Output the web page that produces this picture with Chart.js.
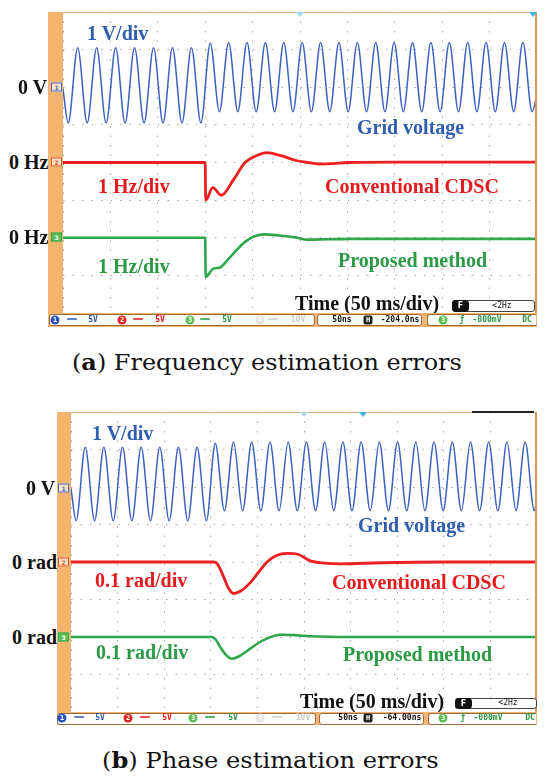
<!DOCTYPE html>
<html>
<head>
<meta charset="utf-8">
<script src="https://cdn.jsdelivr.net/npm/chart.js@4.4.1/dist/chart.umd.min.js"></script>
<style>
  body { margin: 0; background: #fff; }
  #page { position: relative; width: 550px; height: 784px; overflow: hidden; }
  canvas, .strip, .frame, .sbar, .lbl, .st, .cap, .mk, .badge, .tri { position: absolute; }
  .strip { background: #f5b46f; }
  .frame { box-sizing: border-box; border-top: 1px solid #e2ab7c; border-right: 2px solid #df9457; pointer-events: none; }
  .sbar { background: #f5b46f; }
  .seg { position: absolute; top: 1px; height: 10px; background: #fff; border: 1px solid #9a6b43; border-radius: 3px; }
  .lbl { font: bold 20px "Liberation Serif", serif; line-height: 1; white-space: nowrap; transform: translateY(-50%); }
  .blue { color: #2f5db0; }
  .red { color: #e41a1c; }
  .green { color: #2b9a45; }
  .black { color: #111; }
  .cap { font: 22px "DejaVu Serif", serif; line-height: 1; white-space: nowrap; color: #111; transform-origin: left center; }
  .st { font: bold 8px "DejaVu Sans Mono", monospace; line-height: 1; white-space: nowrap; transform: translate(-50%, -50%); }
  .dot { width: 9px; height: 9px; border-radius: 50%; color: #fff; font-size: 7px; line-height: 9px; text-align: center; transform: translate(-50%, -50%); }
  .mk { width: 9px; height: 7px; border: 1px solid; font: bold 6px "DejaVu Sans", sans-serif; line-height: 7px; text-align: center; transform: translateY(-50%); background: #fbe0c4; }
  .badge { box-sizing: border-box; border: 1px solid #444; border-radius: 3px; background: #fff; }
  .pill { position: absolute; left: -1px; top: -1px; width: 17px; height: 100%; box-sizing: content-box; padding-bottom: 2px; background: #111; border-radius: 4px; color: #fff; font: bold 8px "DejaVu Sans", sans-serif; line-height: 12px; text-align: center; }
  .tri { width: 0; height: 0; border-left: 4px solid transparent; border-right: 4px solid transparent; border-top: 5px solid #9fdcef; transform: translateX(-50%); }
</style>
</head>
<body>
<div id="page">

  <!-- panel (a) -->
  <div class="strip" style="left:48px;top:12px;width:15px;height:301px"></div>
  <canvas id="chartA" width="474" height="301" style="left:63px;top:12px"></canvas>
  <div class="frame" style="left:63px;top:12px;width:474px;height:301px"></div>
  <div class="tri" style="left:300px;top:12px"></div>
  <div class="tri" style="left:533px;top:12px;border-top-color:#3fb6e0"></div>

  <div class="mk" style="left:51px;top:87px;border-color:#4a6cc8;color:#4a6cc8">1</div>
  <div class="mk" style="left:51px;top:162px;border-color:#e8552a;color:#e8552a">2</div>
  <div class="mk" style="left:51px;top:237px;border-color:#3aa84a;color:#fff;background:#5cbf55">3</div>

  <div class="lbl blue" style="left:87px;top:33px">1 V/div</div>
  <div class="lbl black" style="left:18px;top:87px">0 V</div>
  <div class="lbl black" style="left:9px;top:162px">0 Hz</div>
  <div class="lbl red" style="left:98px;top:186px">1 Hz/div</div>
  <div class="lbl blue" style="left:357px;top:127px">Grid voltage</div>
  <div class="lbl red" style="left:325px;top:186px">Conventional CDSC</div>
  <div class="lbl black" style="left:9px;top:237px">0 Hz</div>
  <div class="lbl green" style="left:98px;top:266px">1 Hz/div</div>
  <div class="lbl green" style="left:338px;top:260px">Proposed method</div>
  <div class="lbl black" style="left:295px;top:303px">Time (50 ms/div)</div>

  <div class="badge" style="left:452px;top:300px;width:83px;height:12px"><div class="pill">F</div></div>
  <div class="st black" style="left:502px;top:306px;font-weight:normal">&lt;2Hz</div>

  <div class="sbar" style="left:48px;top:313px;width:489px;height:14px">
    <div class="seg" style="left:1px;width:264px"></div>
    <div class="seg" style="left:269px;width:103px"></div>
    <div class="seg" style="left:379px;width:108px;border-right:none;border-radius:3px 0 0 3px"></div>
  </div>
  <div class="st dot" style="left:55px;top:320px;background:#2a55b8">1</div>
  <div class="st blue" style="left:72px;top:320px">══</div>
  <div class="st blue" style="left:93px;top:320px">5V</div>
  <div class="st dot" style="left:122px;top:320px;background:#e52222">2</div>
  <div class="st red" style="left:138px;top:320px">══</div>
  <div class="st red" style="left:160px;top:320px">5V</div>
  <div class="st dot" style="left:190px;top:320px;background:#5cbf55">3</div>
  <div class="st green" style="left:205px;top:320px">══</div>
  <div class="st green" style="left:227px;top:320px">5V</div>
  <div class="st dot" style="left:260px;top:320px;background:#e4e4e4">4</div>
  <div class="st" style="left:273px;top:320px;color:#ccc">══</div>
  <div class="st" style="left:298px;top:320px;color:#ccc">10V</div>
  <div class="st black" style="left:342px;top:320px">50ns</div>
  <div class="st dot" style="left:368px;top:320px;background:#222;border-radius:2px">H</div>
  <div class="st black" style="left:400px;top:320px">-204.0ns</div>
  <div class="st dot" style="left:443px;top:320px;background:#5cbf55">3</div>
  <div class="st green" style="left:462px;top:320px">ƒ</div>
  <div class="st green" style="left:487px;top:320px">-000mV</div>
  <div class="st green" style="left:527px;top:320px">DC</div>

  <div class="cap" data-w="390" style="left:72px;top:351px">(<b>a</b>) Frequency estimation errors</div>

  <!-- panel (b) -->
  <div class="strip" style="left:57px;top:412px;width:14px;height:300px"></div>
  <canvas id="chartB" width="466" height="300" style="left:71px;top:412px"></canvas>
  <div class="frame" style="left:71px;top:412px;width:466px;height:300px"></div>
  <div class="tri" style="left:304px;top:412px"></div>
  <div class="tri" style="left:363px;top:412px;border-top-color:#3fb6e0"></div>
  <div style="position:absolute;left:472px;top:411px;width:62px;height:2px;background:#222"></div>

  <div class="mk" style="left:58px;top:488px;border-color:#4a6cc8;color:#4a6cc8">1</div>
  <div class="mk" style="left:58px;top:562px;border-color:#e8552a;color:#e8552a">2</div>
  <div class="mk" style="left:58px;top:637px;border-color:#3aa84a;color:#fff;background:#5cbf55">3</div>

  <div class="lbl blue" style="left:92px;top:433px">1 V/div</div>
  <div class="lbl black" style="left:26px;top:488px">0 V</div>
  <div class="lbl black" style="left:12px;top:562px">0 rad</div>
  <div class="lbl red" style="left:95px;top:580px">0.1 rad/div</div>
  <div class="lbl blue" style="left:358px;top:525px">Grid voltage</div>
  <div class="lbl red" style="left:332px;top:582px">Conventional CDSC</div>
  <div class="lbl black" style="left:12px;top:637px">0 rad</div>
  <div class="lbl green" style="left:96px;top:652px">0.1 rad/div</div>
  <div class="lbl green" style="left:343px;top:654px">Proposed method</div>
  <div class="lbl black" style="left:300px;top:701px">Time (50 ms/div)</div>

  <div class="badge" style="left:455px;top:698px;width:82px;height:11px"><div class="pill">F</div></div>
  <div class="st black" style="left:508px;top:703px;font-weight:normal">&lt;2Hz</div>

  <div class="sbar" style="left:57px;top:712px;width:480px;height:13px">
    <div class="seg" style="left:0px;width:257px"></div>
    <div class="seg" style="left:262px;width:103px"></div>
    <div class="seg" style="left:371px;width:107px;border-right:none;border-radius:3px 0 0 3px"></div>
  </div>
  <div class="st dot" style="left:62px;top:718px;background:#2a55b8">1</div>
  <div class="st blue" style="left:79px;top:718px">══</div>
  <div class="st blue" style="left:100px;top:718px">5V</div>
  <div class="st dot" style="left:128px;top:718px;background:#e52222">2</div>
  <div class="st red" style="left:145px;top:718px">══</div>
  <div class="st red" style="left:167px;top:718px">5V</div>
  <div class="st dot" style="left:193px;top:718px;background:#5cbf55">3</div>
  <div class="st green" style="left:210px;top:718px">══</div>
  <div class="st green" style="left:233px;top:718px">5V</div>
  <div class="st dot" style="left:260px;top:718px;background:#e4e4e4">4</div>
  <div class="st" style="left:277px;top:718px;color:#ccc">══</div>
  <div class="st" style="left:303px;top:718px;color:#ccc">10V</div>
  <div class="st black" style="left:348px;top:718px">50ns</div>
  <div class="st dot" style="left:368px;top:718px;background:#222;border-radius:2px">H</div>
  <div class="st black" style="left:402px;top:718px">-64.00ns</div>
  <div class="st dot" style="left:443px;top:718px;background:#5cbf55">3</div>
  <div class="st green" style="left:463px;top:718px">ƒ</div>
  <div class="st green" style="left:488px;top:718px">-000mV</div>
  <div class="st green" style="left:530px;top:718px">DC</div>

  <div class="cap" data-w="337" style="left:102px;top:749px">(<b>b</b>) Phase estimation errors</div>
</div>

<script>
// time axis: 0..500 ms (10 div x 50 ms)
const timeA = [0, 5.5, 15.5, 25.5, 35.5, 45.5, 55.5, 65.5, 75.5, 85.5, 95.5, 105.5, 115.5, 125.5, 135.5, 145.5,
  155.3, 165.0, 174.7, 184.4, 194.1, 203.8, 213.5, 223.2, 232.9, 242.6, 252.3, 262.0, 271.7, 281.4, 291.1, 300.8,
  310.5, 320.2, 329.9, 339.6, 349.3, 359.0, 368.7, 378.4, 388.1, 397.8, 407.5, 417.2, 426.9, 436.6, 446.3, 456.0,
  465.7, 475.4, 485.1, 494.8, 500];
const gridVoltA = [-0.05, -0.95, 1.05, -0.95, 1.05, -0.95, 1.05, -0.95, 1.05, -0.95, 1.05, -0.95, 1.05, -0.95, 1.05, -0.95,
  1.17, -0.65, 1.19, -0.65, 1.19, -0.65, 1.19, -0.65, 1.19, -0.65, 1.19, -0.65, 1.19, -0.65, 1.19, -0.65,
  1.19, -0.65, 1.19, -0.65, 1.19, -0.65, 1.19, -0.65, 1.19, -0.65, 1.19, -0.65, 1.19, -0.65, 1.19, -0.65,
  1.19, -0.65, 1.19, -0.65, -0.2];

const cdscTimeA = [0, 150, 150.5, 158, 167, 180, 192, 204, 215, 230, 245, 258, 270, 285, 300, 350, 400, 450, 500];
const cdscFreqA = [0, 0, -1.0, -0.67, -0.87, -0.45, 0, 0.18, 0.26, 0.18, 0.06, 0, -0.04, -0.03, 0, 0.01, 0.01, 0.01, 0.01];

const propTimeA = [0, 150, 150.5, 158.6, 165.6, 174, 183, 192, 202, 213, 228, 245, 258, 280, 303, 350, 500];
const propFreqA = [0, 0, -1.04, -0.82, -0.79, -0.58, -0.33, -0.11, 0.04, 0.09, 0.06, 0.01, -0.05, -0.04, -0.03, -0.03, -0.03];

const timeB = [0, 5.5, 15.3, 25.3, 35.3, 45.3, 55.3, 65.3, 75.3, 85.3, 95.3, 105.3, 115.3, 125.3, 135.3, 145.3,
  154.8, 164.6, 174.4, 184.1, 193.9, 203.7, 213.5, 223.3, 233.0, 242.8, 252.6, 262.4, 272.2, 281.9, 291.7, 301.5,
  311.3, 321.1, 330.8, 340.6, 350.4, 360.2, 370.0, 379.7, 389.5, 399.3, 409.1, 418.9, 428.6, 438.4, 448.2, 458.0,
  467.8, 477.5, 487.3, 497.1, 500];
const gridVoltB = [-0.05, -0.9, 1.06, -0.9, 1.06, -0.9, 1.06, -0.9, 1.06, -0.9, 1.06, -0.9, 1.06, -0.9, 1.06, -0.9,
  1.17, -0.63, 1.2, -0.63, 1.2, -0.63, 1.2, -0.63, 1.2, -0.63, 1.2, -0.63, 1.2, -0.63, 1.2, -0.63,
  1.2, -0.63, 1.2, -0.63, 1.2, -0.63, 1.2, -0.63, 1.2, -0.63, 1.2, -0.63, 1.2, -0.63, 1.2, -0.63,
  1.2, -0.63, 1.2, -0.63, -0.3];

const cdscTimeB = [0, 153, 157, 163.7, 169, 174.5, 181.6, 192.4, 201, 210.3, 221, 232, 244, 256.8, 272, 289, 332, 400, 500];
const cdscPhaseB = [0, 0, -0.005, -0.039, -0.07, -0.084, -0.078, -0.055, -0.028, 0, 0.018, 0.023, 0.02, 0.003, -0.003, -0.005, -0.002, 0, 0];

const propTimeB = [0, 151, 155, 160.2, 166, 172.7, 180, 192.4, 201, 210.3, 224.6, 240, 256.8, 300, 500];
const propPhaseB = [0, 0, -0.006, -0.027, -0.047, -0.058, -0.052, -0.031, -0.016, -0.004, 0.006, 0.005, 0.002, 0, 0];

const pts = (ts, vs) => ts.map((t, i) => ({ x: t, y: vs[i] }));

const gridLines = { color: '#a8a8a8', lineWidth: 1, drawTicks: false };
const gridBorder = { display: false, dash: [1.5, 8] };

function scopeChart(id, sineT, sineV, redT, redV, greenT, greenV, ch2, ch3) {
  return new Chart(document.getElementById(id), {
    type: 'line',
    data: {
      datasets: [
        { data: pts(sineT, sineV), yAxisID: 'yV', borderColor: '#3d61c2', borderWidth: 1.5 },
        { data: pts(redT, redV), yAxisID: 'yC2', borderColor: '#ec2020', borderWidth: 2.8 },
        { data: pts(greenT, greenV), yAxisID: 'yC3', borderColor: '#2ea64a', borderWidth: 2.6 }
      ]
    },
    options: {
      responsive: false,
      animation: false,
      events: [],
      layout: { padding: 0 },
      elements: {
        point: { radius: 0 },
        line: { cubicInterpolationMode: 'monotone', fill: false }
      },
      plugins: { legend: { display: false }, tooltip: { enabled: false } },
      scales: {
        x: { type: 'linear', min: 0, max: 500, ticks: { display: false, stepSize: 50 }, grid: gridLines, border: gridBorder },
        yGrid: { type: 'linear', position: 'left', min: 0, max: 8, ticks: { display: false, stepSize: 1 }, grid: gridLines, border: gridBorder },
        yV: { display: false, min: -6, max: 2 },
        yC2: { display: false, min: ch2[0], max: ch2[1] },
        yC3: { display: false, min: ch3[0], max: ch3[1] }
      }
    }
  });
}

// 1 V/div, 1 Hz/div
scopeChart('chartA', timeA, gridVoltA, cdscTimeA, cdscFreqA, propTimeA, propFreqA, [-4, 4], [-2, 6]);
// 1 V/div, 0.1 rad/div
scopeChart('chartB', timeB, gridVoltB, cdscTimeB, cdscPhaseB, propTimeB, propPhaseB, [-0.4, 0.4], [-0.2, 0.6]);

document.querySelectorAll('.cap[data-w]').forEach(el => {
  const k = Number(el.dataset.w) / el.offsetWidth;
  el.style.transform = 'scaleX(' + k.toFixed(3) + ')';
});
</script>
</body>
</html>
